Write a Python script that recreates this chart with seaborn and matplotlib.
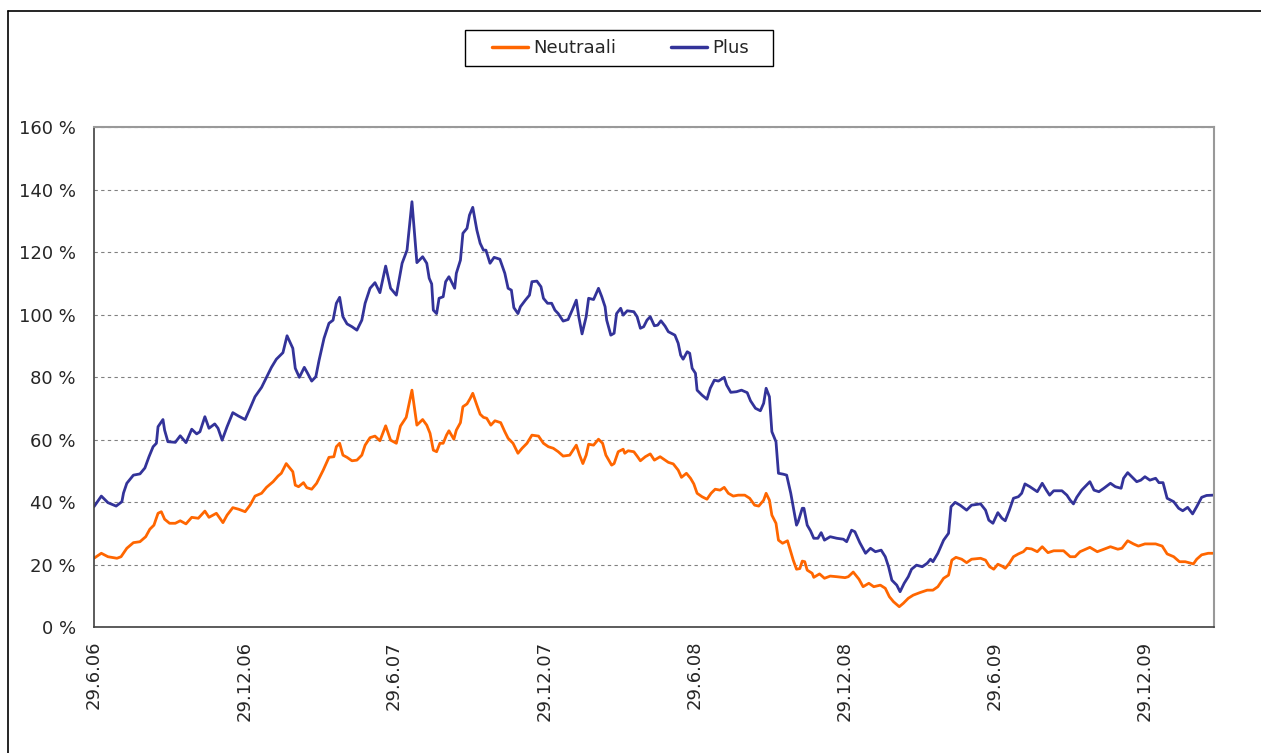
import pandas as pd
import seaborn as sns
import matplotlib.pyplot as plt
from matplotlib.lines import Line2D
from matplotlib.patches import Rectangle

# days since 29.6.2006 and value (%)
plus_days = [0, 9, 17, 27, 34, 36, 40, 48, 56, 62, 67, 72, 76, 78, 84, 86, 90, 99, 105, 112,
             119, 125, 129, 135, 140, 147, 151, 156, 162, 169, 176, 184, 190, 196, 204, 210, 216, 222, 230, 235,
             242, 245, 250, 256, 260, 265, 270, 274, 280, 286, 291, 295, 299, 303, 308, 314, 320, 326, 330, 336,
             342, 348, 355, 361, 368, 375, 381, 387, 393, 400, 405, 408, 411, 413, 417, 420, 425, 428, 432, 439,
             441, 446, 449, 454, 457, 461, 466, 470, 474, 477, 482, 487, 494, 500, 504, 508, 511, 516, 519, 525,
             530, 533, 539, 544, 547, 552, 557, 561, 565, 571, 577, 582, 587, 590, 594, 599, 602, 608, 614, 618,
             622, 624, 629, 633, 636, 641, 644, 649, 657, 661, 665, 669, 673, 677, 682, 686, 690, 695, 699, 707,
             711, 714, 717, 722, 725, 728, 732, 734, 740, 746, 750, 755, 760, 767, 770, 775, 782, 788, 795, 799,
             805, 811, 815, 818, 822, 825, 830, 833, 839, 843, 848, 851, 855, 857, 862, 864, 868, 872, 876, 881,
             885, 889, 896, 904, 912, 916, 922, 926, 932, 939, 945, 951, 958, 963, 967, 971, 977, 981, 986, 991,
             995, 1001, 1008, 1014, 1018, 1021, 1027, 1034, 1040, 1043, 1048, 1054, 1062, 1068, 1079, 1085, 1089, 1094, 1100, 1105,
             1109, 1114, 1119, 1125, 1129, 1133, 1139, 1148, 1154, 1159, 1163, 1168, 1178, 1184, 1188, 1192, 1196, 1202, 1206, 1212,
             1217, 1223, 1229, 1237, 1243, 1250, 1253, 1258, 1263, 1269, 1274, 1279, 1285, 1292, 1296, 1301, 1306, 1314, 1320, 1325,
             1331, 1337, 1342, 1348, 1354, 1362]
plus_vals = [38.5, 41.9, 39.8, 38.7, 40.1, 42.9, 46, 48.6, 49, 50.9, 54.5, 57.7, 58.8, 64.1, 66.4, 63, 59.3, 59.1, 61.2, 59,
             63.3, 61.8, 62.5, 67.3, 63.6, 65, 63.6, 59.8, 64.1, 68.6, 67.5, 66.4, 70, 73.7, 76.7, 79.9, 83.1, 85.7, 87.8, 93.2,
             89.2, 82.8, 79.9, 83.1, 81.2, 78.7, 80.1, 85.4, 92.4, 97.2, 98.2, 103.6, 105.5, 99.3, 97, 96.1, 95, 98.2, 103.6, 108.4,
             110.2, 107, 115.5, 108.4, 106.2, 116.4, 120.6, 136.1, 116.6, 118.5, 116.4, 111.6, 109.8, 101.4, 100.3, 105.2, 105.7, 110.5, 112.1, 108.4,
             113.2, 117.4, 126, 127.6, 131.8, 134.3, 127, 122.8, 120.6, 120.6, 116.4, 118.3, 117.7, 113.2, 108.4, 107.8, 102.2, 100.3, 102.5, 104.6,
             106.2, 110.5, 110.7, 108.9, 105.2, 103.6, 103.6, 101.4, 100.3, 97.9, 98.4, 101.4, 104.6, 99.3, 93.8, 99.3, 105.2, 104.8, 108.4, 105.7,
             102.5, 98.2, 93.4, 94, 100.3, 102, 99.8, 101.2, 100.9, 99.3, 95.6, 96.1, 98.2, 99.3, 96.4, 96.6, 98, 96.3, 94.5, 93.4,
             90.8, 87, 85.7, 88.1, 87.6, 82.8, 81.2, 75.8, 74.2, 72.9, 76.4, 79, 78.7, 79.9, 77.4, 75.1, 75.3, 75.8, 75, 72.4,
             70, 69.2, 71.6, 76.4, 73.7, 62.5, 59.3, 49.2, 48.9, 48.6, 42.8, 38.5, 32.6, 33.7, 38, 38, 32.6, 30.8, 28.4, 28.4,
             30.2, 27.8, 28.9, 28.4, 28.1, 27.3, 31, 30.5, 27, 23.6, 25.2, 24.1, 24.6, 22.5, 19.3, 15, 13.4, 11.3, 14, 16.1,
             18.5, 19.8, 19.3, 20.4, 21.7, 20.9, 23.6, 27.8, 30, 38.5, 39.9, 39, 37.4, 39, 39.4, 37.4, 34.2, 33.2, 36.6, 34.8,
             34, 37.4, 41.2, 41.7, 42.8, 45.8, 44.9, 43.3, 46, 43.8, 42.2, 43.6, 43.6, 42.2, 40.6, 39.4, 41.5, 43.8, 44.9, 46.5,
             43.8, 43.3, 44.4, 46, 44.9, 44.4, 47.6, 49.4, 48.1, 46.5, 47, 48.1, 47, 47.6, 46.2, 46.2, 41.2, 40.1, 38, 37.2,
             38.3, 36.2, 38.5, 41.5, 42.1, 42.2]

neutraali_days = [0, 9, 17, 28, 33, 40, 48, 56, 63, 68, 73, 78, 82, 86, 92, 99, 105, 112, 119, 127,
                  135, 140, 149, 157, 162, 169, 176, 184, 190, 196, 204, 210, 218, 224, 228, 234, 239, 242, 245, 249,
                  255, 259, 265, 271, 279, 286, 292, 295, 299, 303, 308, 314, 320, 326, 330, 336, 342, 348, 355, 361,
                  368, 373, 380, 387, 393, 400, 405, 409, 413, 417, 421, 425, 429, 432, 438, 441, 446, 449, 454, 458,
                  461, 466, 470, 474, 478, 483, 488, 495, 500, 504, 510, 516, 521, 527, 533, 541, 547, 553, 559, 565,
                  571, 579, 587, 591, 595, 599, 602, 608, 614, 619, 623, 630, 633, 638, 644, 646, 650, 657, 661, 665,
                  671, 677, 682, 689, 695, 699, 705, 711, 715, 721, 726, 730, 734, 740, 746, 751, 756, 762, 767, 772,
                  778, 784, 792, 798, 804, 809, 815, 818, 822, 825, 830, 833, 838, 844, 848, 851, 855, 859, 862, 865,
                  868, 874, 876, 883, 889, 896, 904, 914, 918, 924, 931, 936, 943, 949, 957, 963, 968, 973, 980, 985,
                  991, 997, 1005, 1014, 1021, 1027, 1034, 1040, 1044, 1049, 1056, 1062, 1068, 1079, 1085, 1090, 1095, 1100, 1105, 1109,
                  1114, 1119, 1125, 1131, 1135, 1141, 1148, 1154, 1161, 1168, 1180, 1188, 1194, 1200, 1212, 1221, 1229, 1237, 1246, 1251,
                  1258, 1265, 1271, 1279, 1292, 1300, 1306, 1314, 1321, 1328, 1338, 1342, 1348, 1356, 1362]
neutraali_vals = [22, 23.6, 22.5, 22, 22.5, 25.2, 27, 27.3, 28.9, 31.3, 32.6, 36.4, 36.9, 34.5, 33.2, 33.2, 34, 33, 35.1, 34.8,
                  37.1, 35.1, 36.4, 33.4, 35.8, 38.2, 37.7, 36.9, 39, 41.9, 42.8, 44.7, 46.5, 48.3, 49.2, 52.3, 50.7, 49.7, 45.4, 44.9,
                  46.2, 44.6, 44.1, 46, 50.2, 54.3, 54.5, 57.7, 58.8, 55, 54.3, 53.2, 53.4, 55, 58.2, 60.6, 61.1, 59.6, 64.4, 59.8,
                  58.8, 64.3, 67.1, 75.8, 64.6, 66.4, 64.6, 62, 56.6, 56.1, 58.8, 58.8, 61.4, 62.8, 60.1, 63, 65.4, 70.5, 71.4, 73.2,
                  74.8, 71, 68.1, 67.1, 66.8, 64.6, 66, 65.4, 62.5, 60.4, 58.8, 55.6, 57.2, 58.8, 61.4, 61.1, 58.8, 57.7, 57.2, 56.1,
                  54.7, 55, 58.2, 55, 52.3, 55, 58.5, 58.2, 60.1, 58.8, 55, 51.8, 52.3, 56.1, 56.9, 55.6, 56.4, 56.1, 54.7, 53.2,
                  54.5, 55.4, 53.4, 54.5, 53.4, 52.7, 52.2, 50.2, 47.9, 49.2, 47.6, 45.8, 42.8, 41.7, 40.9, 42.8, 44.1, 43.8, 44.7, 42.8,
                  41.9, 42.2, 42.2, 41.2, 39, 38.7, 40.6, 42.8, 40.6, 35.8, 33.2, 27.8, 26.8, 27.6, 24.1, 21.4, 18.5, 18.7, 21.1, 20.9,
                  18.2, 17.2, 15.9, 17, 15.6, 16.3, 16.1, 15.8, 16.1, 17.6, 15.3, 12.9, 14, 12.9, 13.4, 12.4, 9.7, 8.1, 6.5, 7.6,
                  9.2, 10.2, 11, 11.8, 11.8, 12.9, 15.6, 16.6, 21.4, 22.3, 21.7, 20.6, 21.7, 22, 21.4, 19.3, 18.5, 20.1, 19.5, 18.8,
                  20.4, 22.5, 23.4, 24.1, 25.2, 25, 24.1, 25.7, 23.8, 24.4, 24.4, 22.5, 22.5, 24.1, 25.5, 24.1, 24.9, 25.7, 24.9, 25.2,
                  27.6, 26.6, 25.9, 26.6, 26.6, 25.9, 23.4, 22.5, 20.9, 20.9, 20.2, 21.7, 23.1, 23.6, 23.6]

start = pd.Timestamp('2006-06-29')
end_days = 1363
tick_dates = ['2006-06-29', '2006-12-29', '2007-06-29', '2007-12-29',
              '2008-06-29', '2008-12-29', '2009-06-29', '2009-12-29']
tick_labels = ['29.6.06', '29.12.06', '29.6.07', '29.12.07',
               '29.6.08', '29.12.08', '29.6.09', '29.12.09']
y_ticks = [0, 20, 40, 60, 80, 100, 120, 140, 160]

df = pd.concat([
    pd.DataFrame({'date': start + pd.to_timedelta(neutraali_days, unit='D'),
                  'value': neutraali_vals, 'series': 'Neutraali'}),
    pd.DataFrame({'date': start + pd.to_timedelta(plus_days, unit='D'),
                  'value': plus_vals, 'series': 'Plus'}),
], ignore_index=True)

sns.set_style('white')
plt.rcParams['font.family'] = ['DejaVu Sans']

fig = plt.figure(figsize=(12.61, 7.53), dpi=100)
ax = fig.add_axes([0.0745, 0.1673, 0.8882, 0.664])

sns.lineplot(data=df, x='date', y='value', hue='series',
             palette={'Neutraali': '#FF6600', 'Plus': '#333399'},
             linewidth=2.0, estimator=None, legend=False, ax=ax)

ax.set_xlim(start, start + pd.Timedelta(days=end_days))
ax.set_ylim(0, 160)
ax.set_yticks(y_ticks)
ax.set_yticklabels([f'{v} %' for v in y_ticks], fontsize=13)
ax.set_xticks(pd.to_datetime(tick_dates))
ax.set_xticklabels(tick_labels, rotation=90, fontsize=13)
ax.set_xlabel('')
ax.set_ylabel('')

ax.grid(axis='y', color='#808080', linestyle=(0, (3, 3)), linewidth=0.8)
ax.tick_params(axis='both', direction='out', length=5, width=1, color='#404040')
ax.tick_params(axis='y', pad=8)
ax.tick_params(axis='x', pad=5)
for side in ['left', 'bottom']:
    ax.spines[side].set_color('#404040')
    ax.spines[side].set_linewidth(1.2)
for side in ['top', 'right']:
    ax.spines[side].set_color('#999999')
    ax.spines[side].set_linewidth(1.5)

handles = [Line2D([], [], color='#FF6600', linewidth=2.5),
           Line2D([], [], color='#333399', linewidth=2.5)]
ax.legend(handles, ['Neutraali', 'Plus'], loc='center',
          bbox_to_anchor=(0.492, 0.936), bbox_transform=fig.transFigure,
          ncol=2, fontsize=13, frameon=False, handlelength=2.0,
          handletextpad=0.3, columnspacing=3.0, borderaxespad=0)
# legend box, wider than matplotlib's default padding
fig.add_artist(Rectangle((465 / 1261, 1 - 66 / 753), 308 / 1261, 36 / 753,
                         transform=fig.transFigure, fill=False,
                         edgecolor='black', linewidth=1.0))

# outer chart frame (left and top edges visible)
fig.add_artist(Line2D([8 / 1261, 8 / 1261], [0, 1 - 11 / 753], color='black', linewidth=1.2))
fig.add_artist(Line2D([8 / 1261, 1], [1 - 11 / 753, 1 - 11 / 753], color='black', linewidth=1.2))

fig.savefig('out.png', dpi=100)
